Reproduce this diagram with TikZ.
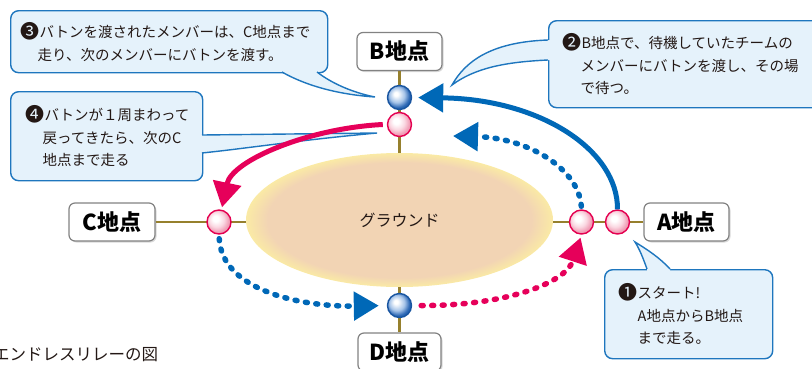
\documentclass[tikz,border=0pt]{standalone}
\usepackage{fontspec}
\usetikzlibrary{arrows.meta,shapes.geometric,shadows}
\newfontfamily\jp{Noto Sans CJK JP}
\newcommand\cnum[1]{{\fontsize{19}{19}\selectfont\raisebox{-0.5pt}{#1}}}
\definecolor{cfill}{RGB}{229,242,251}
\definecolor{cline}{RGB}{30,118,190}
\definecolor{arrblue}{RGB}{0,104,183}
\definecolor{arrpink}{RGB}{230,0,90}
\definecolor{polecol}{RGB}{150,128,45}
\definecolor{bluemid}{RGB}{165,195,232}
\definecolor{blueedge}{RGB}{40,100,178}
\definecolor{blueline}{RGB}{25,85,160}
\definecolor{pinkmid}{RGB}{250,215,225}
\definecolor{pinkedge}{RGB}{240,155,180}
\definecolor{pinkline}{RGB}{228,0,80}
\definecolor{groundin}{RGB}{242,212,180}
\definecolor{groundout}{RGB}{250,234,165}
\definecolor{txt}{RGB}{35,24,21}
\definecolor{boxline}{RGB}{130,130,130}
\pgfdeclareradialshading{blueballshade}{\pgfpoint{-8bp}{8bp}}{color(0bp)=(white); color(4bp)=(white); color(16bp)=(bluemid); color(25bp)=(blueedge); color(50bp)=(blueedge)}
\pgfdeclareradialshading{pinkballshade}{\pgfpoint{-8bp}{8bp}}{color(0bp)=(white); color(6bp)=(white); color(16bp)=(pinkmid); color(25bp)=(pinkedge); color(50bp)=(pinkedge)}
\pgfdeclareradialshading{groundshade}{\pgfpoint{0bp}{0bp}}{color(0bp)=(groundin); color(21.5bp)=(groundin); color(25bp)=(groundout); color(50bp)=(groundout)}
\tikzset{
  place/.style={draw=boxline, line width=1.2pt, fill=white, rounded corners=6pt, inner sep=0pt,
    minimum height=38pt, font=\jp\bfseries\fontsize{22}{22}\selectfont, text=black,
    drop shadow={opacity=0.3, shadow xshift=1.5pt, shadow yshift=-1.5pt}},
  ball/.style={circle, inner sep=0pt, minimum size=24pt, line width=1.4pt},
  blueball/.style={ball, draw=blueline, shading=blueballshade},
  pinkball/.style={ball, draw=pinkline, shading=pinkballshade},
  pole/.style={draw=polecol, line width=2.5pt},
  callout/.style={draw=cline, fill=cfill, line width=1.4pt, rounded corners=8pt, anchor=north west,
    align=left, inner ysep=0pt, font=\jp\fontsize{14.5}{22.5}\selectfont, text=txt},
  tailline/.style={draw=cline, line width=1.4pt},
  solidarrow/.style={line width=5pt, -{Triangle[length=25pt,width=28pt]}},
  dotarrow/.style={line width=5.5pt, line cap=round, dash pattern=on 2pt off 8.5pt, -{Triangle[length=25pt,width=28pt]}}
}
\begin{document}
\begin{tikzpicture}[x=1pt,y=-1pt]
\useasboundingbox (0,0) rectangle (812,368);
% ground
\node[ellipse, minimum width=307pt, minimum height=134pt, inner sep=0pt, shading=groundshade,
  font=\jp\fontsize{16}{16}\selectfont, text=txt] (G) at (399.5,220) {グラウンド};
% place labels
\node[place, minimum width=85pt] (A) at (686.5,222) {A地点};
\node[place, minimum width=85pt] (B) at (399.5,51.5) {B地点};
\node[place, minimum width=86pt] (C) at (112,222) {C地点};
\node[place, minimum width=83pt] (D) at (399.5,352) {D地点};
% poles
\draw[pole] (B.south) -- (G.north);
\draw[pole] (G.south) -- (D.north);
\draw[pole] (C.east) -- (C.east -| G.west);
\draw[pole] (A.west -| G.east) -- (A.west);
% balls
\node[blueball] (b1) at (399.5,97.5) {};
\node[pinkball] (p1) at (399.5,124.5) {};
\node[pinkball] (p2) at (219,222) {};
\node[blueball] (b2) at (399.5,305.5) {};
\node[pinkball] (p3) at (581.5,222) {};
\node[pinkball] (p4) at (617.5,222) {};
% callouts
\node[callout, text width=297pt, inner xsep=10pt, minimum height=62pt] (n3) at (10,10)
  {\cnum{❸}バトンを渡されたメンバーは、C地点まで\\\hspace*{17pt}走り、次のメンバーにバトンを渡す。};
\fill[cfill] (282,72) .. controls (310,88) and (345,95) .. (375,97) .. controls (350,92) and (330,82) .. (317,72) -- (317,66) -- (282,66) -- cycle;
\draw[tailline] (282,72) .. controls (310,88) and (345,95) .. (375,97) .. controls (350,92) and (330,82) .. (317,72);

\node[callout, text width=162pt, inner xsep=15pt, minimum height=89pt] (n4) at (10,91)
  {\cnum{❹}バトンが１周まわって\\\hspace*{17pt}戻ってきたら、次のC\\\hspace*{17pt}地点まで走る};
\fill[cfill] (202,135) -- (377,133) .. controls (300,140) and (250,148) .. (202,153) -- (196,153) -- (196,135) -- cycle;
\draw[tailline] (202,135) -- (377,133) .. controls (300,140) and (250,148) .. (202,153);

\node[callout, text width=244pt, inner xsep=14pt, minimum height=87pt] (n2) at (548,20)
  {\cnum{❷}B地点で、待機していたチームの\\\hspace*{18pt}メンバーにバトンを渡し、その場\\\hspace*{18pt}で待つ。};
\fill[cfill] (548,40) .. controls (490,42) and (465,62) .. (452,85) .. controls (475,68) and (505,62) .. (548,60) -- (554,60) -- (554,40) -- cycle;
\draw[tailline] (548,40) .. controls (490,42) and (465,62) .. (452,85) .. controls (475,68) and (505,62) .. (548,60);

\node[callout, text width=140pt, inner xsep=14pt, minimum height=89pt] (n1) at (604,269)
  {\cnum{❶}スタート!\\\hspace*{19pt}A地点からB地点\\\hspace*{19pt}まで走る。};
\fill[cfill] (647,269) .. controls (643,258) and (640,250) .. (635,242) .. controls (648,250) and (660,258) .. (670,269) -- (670,275) -- (647,275) -- cycle;
\draw[tailline] (647,269) .. controls (643,258) and (640,250) .. (635,242) .. controls (648,250) and (660,258) .. (670,269);

% arrows
\coordinate (t2) at (453,136);
\draw[solidarrow, arrblue, shorten >=6pt] (p4.north) .. controls (618,150) and (540,99) .. (b1.east);
\draw[dotarrow, arrblue, shorten <=3pt] (p3.north) .. controls (579,170) and (530,138) .. (t2);
\draw[solidarrow, arrpink] ([xshift=-4pt]p1.west) .. controls (310,128) and (232,160) .. ([xshift=3pt,yshift=2pt]p2.north);
\draw[dotarrow, arrblue, shorten <=4pt, shorten >=8pt] (p2.south) .. controls (222,290) and (300,307) .. (b2.west);
\draw[dotarrow, arrpink, shorten <=9pt, shorten >=3pt] (b2.east) .. controls (500,306) and (565,285) .. (p3.south);
% caption
\node[anchor=west, inner sep=0pt, font=\jp\fontsize{16.5}{16.5}\selectfont, text=txt] (cap) at (-7,355) {エンドレスリレーの図};
\end{tikzpicture}
\end{document}
